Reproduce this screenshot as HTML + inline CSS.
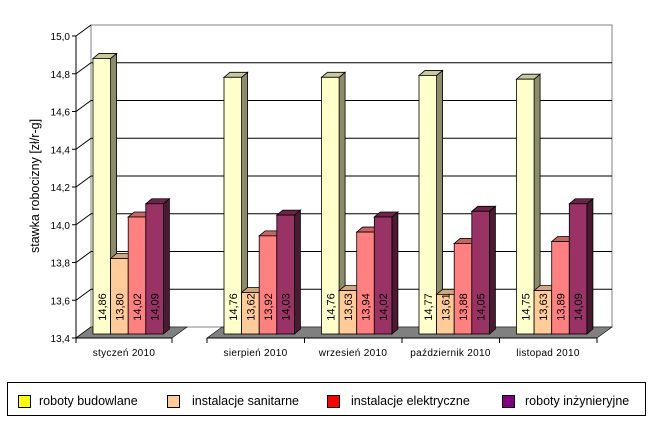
<!DOCTYPE html>
<html><head><meta charset="utf-8"><style>
html,body{margin:0;padding:0;background:#fff;width:657px;height:421px;overflow:hidden}
svg{display:block;font-family:"Liberation Sans",sans-serif}
</style></head><body>
<svg id="s" width="657" height="421" viewBox="0 0 657 421" xmlns="http://www.w3.org/2000/svg">
<rect x="0" y="0" width="657" height="421" fill="#fff"/>
<g id="g"></g>
<rect x="7.5" y="382.5" width="638" height="33" fill="#fff" stroke="#000" stroke-width="1"/>
<rect x="18.5" y="395.5" width="12" height="12" fill="#ffff00" stroke="#000"/>
<text x="39" y="405" font-size="12.5">roboty budowlane</text>
<rect x="167.5" y="395.5" width="12" height="12" fill="#ffcc99" stroke="#000"/>
<text x="192" y="405" font-size="12.5">instalacje sanitarne</text>
<rect x="327.5" y="395.5" width="12" height="12" fill="#ff0000" stroke="#000"/>
<text x="351" y="405" font-size="12.5">instalacje elektryczne</text>
<rect x="502.5" y="395.5" width="12" height="12" fill="#800080" stroke="#000"/>
<text x="525" y="405" font-size="12.5">roboty inżynieryjne</text>
<text transform="translate(39,186) rotate(-90)" text-anchor="middle" font-size="12.5">stawka robocizny [zł/r-g]</text>
</svg>
<script>
var g=document.getElementById('g'),h='';
function Y(v){return 338-(v-13.4)*188.75;}
h+='<rect x="91" y="25" width="521" height="302" fill="#fff" stroke="#808080" stroke-width="1"/>';
for(var i=1;i<8;i++){var v=13.4+i*0.2,y=Y(v);
 h+='<line x1="91" y1="'+(y-11)+'" x2="612" y2="'+(y-11)+'" stroke="#000" stroke-width="1"/>';}
for(var i=0;i<=8;i++){var v=13.4+i*0.2,y=Y(v);
 h+='<line x1="76" y1="'+y+'" x2="91" y2="'+(y-11)+'" stroke="#000" stroke-width="1"/>';
 h+='<line x1="72" y1="'+y+'" x2="76" y2="'+y+'" stroke="#000"/>';
 h+='<text x="70" y="'+(y+4)+'" text-anchor="end" font-size="10">'+v.toFixed(1).replace('.',',')+'</text>';}
h+='<line x1="76" y1="36" x2="76" y2="338" stroke="#000"/>';
h+='<polygon points="76,338 91,327 187,327 172,338" fill="#808080" stroke="#000" stroke-width="0.6"/>';
h+='<polygon points="207,338 222,327 612,327 597,338" fill="#808080" stroke="#000" stroke-width="0.6"/>';
h+='<line x1="76" y1="338" x2="172" y2="338" stroke="#000"/><line x1="207" y1="338" x2="597" y2="338" stroke="#000"/>';
[76,172,207,304.5,402,499.5,597].forEach(function(x){h+='<line x1="'+x+'" y1="338" x2="'+x+'" y2="343" stroke="#000"/>';});
var cats=[[76,'styczeń 2010',124],[207,'sierpień 2010',255.5],[304.5,'wrzesień 2010',353],[402,'październik 2010',450.5],[499.5,'listopad 2010',548]];
var vals=[[14.86,13.80,14.02,14.09],[14.76,13.62,13.92,14.03],[14.76,13.63,13.94,14.02],[14.77,13.61,13.88,14.05],[14.75,13.63,13.89,14.09]];
var cf=['#ffffcc','#ffcc99','#ff8080','#993366'],cs=['#8c8c6c','#b08c6c','#b05858','#4a1a33'],ct=['#c8c8a0','#d0a880','#c86464','#6e2448'];
var w=17.6;
cats.forEach(function(c,ci){
 h+='<text x="'+c[2]+'" y="356" text-anchor="middle" font-size="10" letter-spacing="0.3">'+c[1]+'</text>';
 for(var j=0;j<4;j++){var x=c[0]+17+j*w,b=334,t=Y(vals[ci][j])-4;
  h+='<polygon points="'+(x+w)+','+t+' '+(x+w+6)+','+(t-5)+' '+(x+w+6)+','+(b-5)+' '+(x+w)+','+b+'" fill="'+cs[j]+'" stroke="#000" stroke-width="0.8"/>';
  h+='<polygon points="'+x+','+t+' '+(x+6)+','+(t-5)+' '+(x+w+6)+','+(t-5)+' '+(x+w)+','+t+'" fill="'+ct[j]+'" stroke="#000" stroke-width="0.8"/>';
  h+='<rect x="'+x+'" y="'+t+'" width="'+w+'" height="'+(b-t)+'" fill="'+cf[j]+'" stroke="#000" stroke-width="0.8"/>';
  h+='<text transform="translate('+(x+w/2+4)+',307) rotate(-90)" text-anchor="middle" font-size="11">'+vals[ci][j].toFixed(2).replace('.',',')+'</text>';
 }
});
g.innerHTML=h;
</script>
</body></html>
